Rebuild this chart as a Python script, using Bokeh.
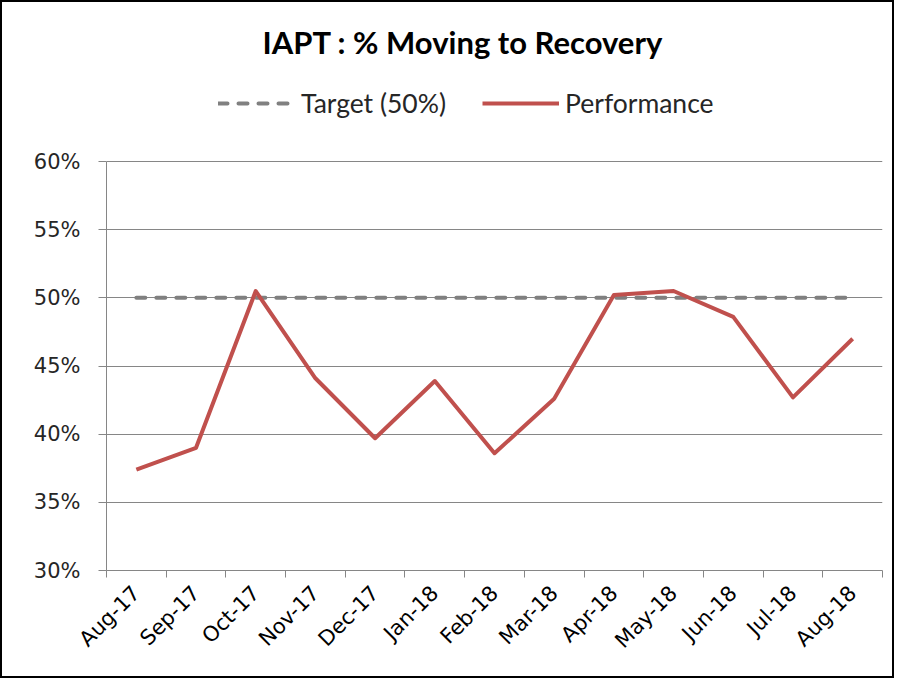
import math
from bokeh.plotting import figure
from bokeh.models import (Range1d, FixedTicker, NumeralTickFormatter, Legend, LegendItem, Label)
from bokeh.embed import file_html
from bokeh.resources import INLINE

months = ["Aug-17", "Sep-17", "Oct-17", "Nov-17", "Dec-17", "Jan-18", "Feb-18",
          "Mar-18", "Apr-18", "May-18", "Jun-18", "Jul-18", "Aug-18"]
performance = [0.374, 0.390, 0.505, 0.441, 0.397, 0.439, 0.386,
               0.426, 0.502, 0.505, 0.486, 0.427, 0.470]
target = [0.50] * len(months)
y_ticks = [0.30, 0.35, 0.40, 0.45, 0.50, 0.55, 0.60]
y_min, y_max = 0.30, 0.60
title_text = "IAPT : % Moving to Recovery"

x_idx = list(range(len(months)))

# layout (pixels): frame spans the whole top so the title/legend fit inside it
plot_top_px, plot_bottom_px = 159, 568
headroom = (y_max - y_min) * plot_top_px / (plot_bottom_px - plot_top_px)

p = figure(width=894, height=678, output_backend="svg", toolbar_location=None,
           x_range=Range1d(-0.5, len(months) - 0.5),
           y_range=Range1d(y_min, y_max + headroom),
           min_border_left=104, min_border_right=14, min_border_top=0, min_border_bottom=110)
p.styles = {"border": "2px solid black"}
p.outline_line_color = None
p.background_fill_color = "white"
p.border_fill_color = "white"

r_t = p.line(x_idx, target, line_color="#808080", line_width=4, line_dash="9 11", line_cap="round")
r_p = p.line(x_idx, performance, line_color="#C0504D", line_width=4, line_join="round")

title = Label(x=156, y=529, x_units="screen", y_units="screen", text=title_text,
              text_font="Lato", text_font_style="bold", text_font_size="31px",
              text_color="black", text_align="left", text_baseline="middle")
p.add_layout(title)

legend = Legend(items=[LegendItem(label="Target (50%)", renderers=[r_t]),
                       LegendItem(label="Performance", renderers=[r_p])],
                orientation="horizontal", location=(112, 451),
                border_line_color=None, background_fill_alpha=0,
                label_text_font="Lato", label_text_font_size="26.5px", label_text_color="#262626",
                glyph_width=77, glyph_height=20, label_height=20, spacing=36, padding=0, margin=0,
                label_standoff=6)
p.add_layout(legend, "center")

p.xgrid.visible = False
p.ygrid.ticker = FixedTicker(ticks=y_ticks)
p.ygrid.grid_line_color = "#868686"

xa = p.xaxis[0]
xa.ticker = FixedTicker(ticks=x_idx, minor_ticks=[i - 0.5 for i in range(len(months) + 1)])
xa.major_label_overrides = {i: m for i, m in enumerate(months)}
xa.major_tick_out = 0
xa.major_tick_in = 0
xa.minor_tick_out = 7
xa.minor_tick_in = 0
xa.minor_tick_line_color = "#868686"
xa.axis_line_color = "#868686"
xa.major_label_orientation = math.pi / 4
xa.major_label_text_font = "DejaVu Sans"
xa.major_label_text_font_size = "21px"
xa.major_label_text_color = "black"
xa.major_label_standoff = 12

ya = p.yaxis[0]
ya.ticker = FixedTicker(ticks=y_ticks)
ya.bounds = (y_min, y_max)
ya.formatter = NumeralTickFormatter(format="0%")
ya.major_tick_out = 8
ya.major_tick_in = 0
ya.minor_tick_line_color = None
ya.major_tick_line_color = "#868686"
ya.axis_line_color = "#868686"
ya.major_label_text_font = "DejaVu Sans"
ya.major_label_text_font_size = "21px"
ya.major_label_text_color = "#262626"
ya.major_label_standoff = 18

open("out.html", "w").write(file_html(p, INLINE))
